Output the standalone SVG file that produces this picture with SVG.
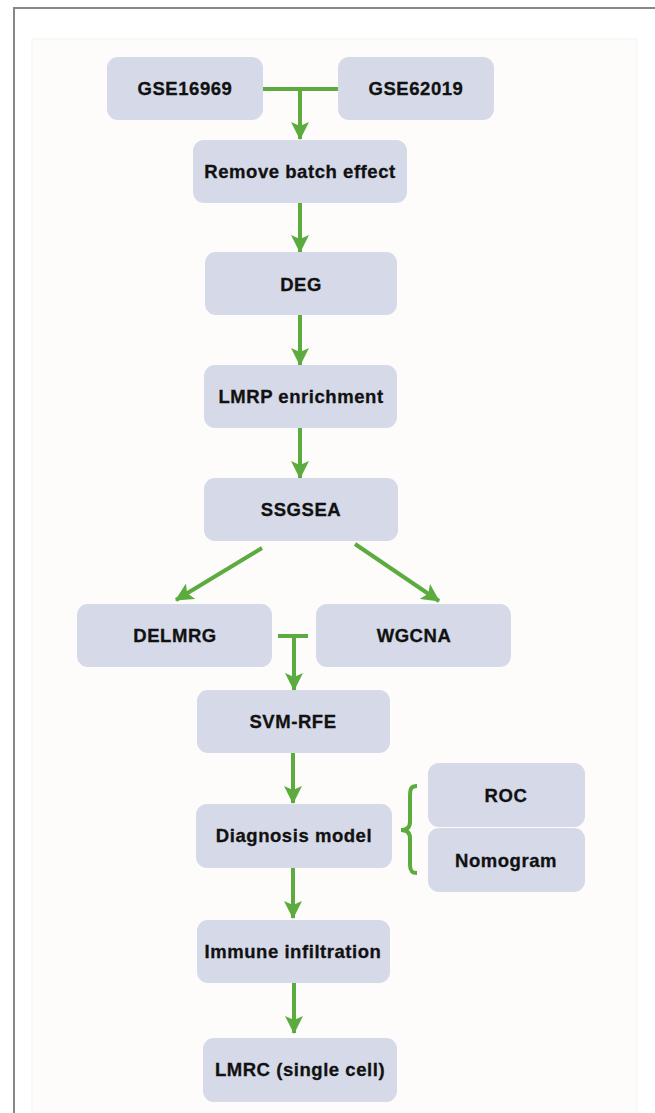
<svg xmlns="http://www.w3.org/2000/svg" width="655" height="1113" viewBox="0 0 655 1113">
<style>
.box{fill:#d5d9e8;}
.lbl{font-family:"Liberation Sans",Arial,sans-serif;font-weight:bold;font-size:18.5px;letter-spacing:0.55px;fill:#111;stroke:#111;stroke-width:0.3;text-anchor:middle;}
.ln{stroke:#5cab3f;stroke-width:4;fill:none;}
</style>
<defs>
<marker id="ah" viewBox="0 0 18 18" refX="17" refY="9" markerWidth="18" markerHeight="18" markerUnits="userSpaceOnUse" orient="auto">
<path d="M0,0 L18,9 L0,18 L4,9 Z" fill="#5cab3f"/>
</marker>
</defs>
<rect x="0" y="0" width="655" height="1113" fill="#ffffff"/>
<path d="M14,1113 V8 H655" stroke="#888" stroke-width="2" fill="none"/>
<rect x="32" y="39" width="605" height="1080" fill="#fdfcfa" stroke="#f3f3f3" stroke-width="1"/>

<g id="connectors">
<path class="ln" d="M263,89 H338"/>
<path class="ln" d="M300,89 V139" marker-end="url(#ah)"/>
<path class="ln" d="M300,203 V252" marker-end="url(#ah)"/>
<path class="ln" d="M300,315 V365" marker-end="url(#ah)"/>
<path class="ln" d="M300,428 V478" marker-end="url(#ah)"/>
<path class="ln" d="M262,548 L176,600" marker-end="url(#ah)"/>
<path class="ln" d="M355,544 L439,601" marker-end="url(#ah)"/>
<path class="ln" d="M278,636 H308"/>
<path class="ln" d="M294,636 V690" marker-end="url(#ah)"/>
<path class="ln" d="M293,753 V803" marker-end="url(#ah)"/>
<path class="ln" d="M293,868 V918" marker-end="url(#ah)"/>
<path class="ln" d="M294,983 V1033" marker-end="url(#ah)"/>
<path class="ln" d="M417,786 C410,786 410,790 410,798 L410,822 C410,827 407,830 401,830 C407,830 410,833 410,838 L410,865 C410,871 412,873 417,873"/>
</g>

<g id="n-gse16969"><rect class="box" x="107" y="57" width="156" height="63" rx="11"/><text class="lbl" x="185" y="95">GSE16969</text></g>
<g id="n-gse62019"><rect class="box" x="338" y="57" width="156" height="63" rx="11"/><text class="lbl" x="416" y="95">GSE62019</text></g>
<g id="n-batch"><rect class="box" x="193" y="140" width="214" height="63" rx="11"/><text class="lbl" x="300" y="178">Remove batch effect</text></g>
<g id="n-deg"><rect class="box" x="205" y="252" width="192" height="63" rx="11"/><text class="lbl" x="301" y="291">DEG</text></g>
<g id="n-lmrp"><rect class="box" x="204" y="365" width="193" height="63" rx="11"/><text class="lbl" x="301" y="403">LMRP enrichment</text></g>
<g id="n-ssgsea"><rect class="box" x="204" y="478" width="194" height="63" rx="11"/><text class="lbl" x="301" y="516">SSGSEA</text></g>
<g id="n-delmrg"><rect class="box" x="77" y="604" width="195" height="63" rx="11"/><text class="lbl" x="175" y="642">DELMRG</text></g>
<g id="n-wgcna"><rect class="box" x="316" y="604" width="195" height="63" rx="11"/><text class="lbl" x="414" y="642">WGCNA</text></g>
<g id="n-svm"><rect class="box" x="197" y="690" width="193" height="63" rx="11"/><text class="lbl" x="293" y="728">SVM-RFE</text></g>
<g id="n-diag"><rect class="box" x="196" y="804" width="196" height="64" rx="11"/><text class="lbl" x="294" y="842">Diagnosis model</text></g>
<g id="n-roc"><rect class="box" x="428" y="763" width="157" height="64" rx="11"/><text class="lbl" x="506" y="802">ROC</text></g>
<g id="n-nomo"><rect class="box" x="428" y="828" width="157" height="64" rx="11"/><text class="lbl" x="506" y="867">Nomogram</text></g>
<g id="n-immune"><rect class="box" x="197" y="920" width="193" height="63" rx="11"/><text class="lbl" x="293" y="958">Immune infiltration</text></g>
<g id="n-lmrc"><rect class="box" x="203" y="1038" width="194" height="64" rx="11"/><text class="lbl" x="300" y="1076">LMRC (single cell)</text></g>
</svg>
